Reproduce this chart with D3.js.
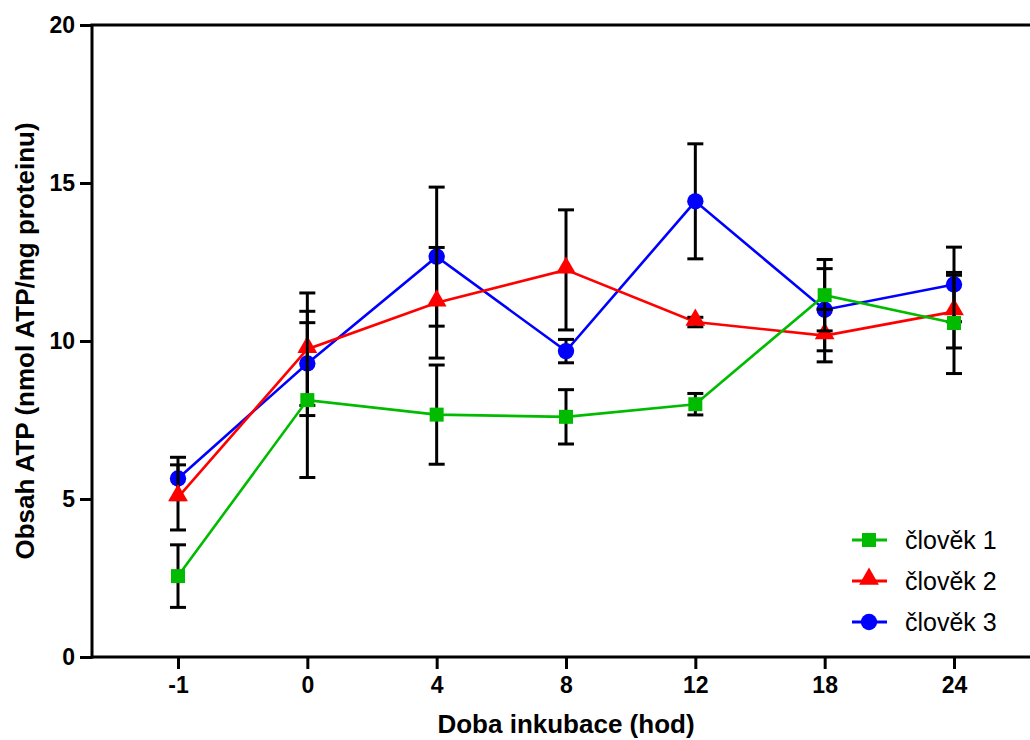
<!DOCTYPE html>
<html>
<head>
<meta charset="utf-8">
<script src="https://cdn.jsdelivr.net/npm/d3@7"></script>
<style>
  body { margin: 0; background: #fff; }
  svg { display: block; font-family: "Liberation Sans", Arial, sans-serif; }
</style>
</head>
<body>
<svg id="chart" width="1030" height="740"></svg>
<script>
const categories = ["-1", "0", "4", "8", "12", "18", "24"];

const mean1 = [2.56, 8.13, 7.67, 7.60, 8.00, 11.45, 10.57];
const sd1   = [0.99, 2.45, 1.57, 0.86, 0.34, 1.13, 1.60];
const mean2 = [5.05, 9.74, 11.21, 12.25, 10.60, 10.17, 10.93];
const sd2   = [1.03, 1.78, 1.75, 1.90, 0.15, 0.83, 1.15];
const mean3 = [5.65, 9.29, 12.67, 9.68, 14.42, 10.99, 11.79];
const sd3   = [0.67, 1.65, 2.20, 0.37, 1.82, 1.30, 1.18];

const yTicks = [0, 5, 10, 15, 20];

// drawn in this order: blue, red, green
const series = [
  { name: "člověk 3", mean: mean3, sd: sd3, color: "#0000ff", symbol: d3.symbolCircle, size: 210 },
  { name: "člověk 2", mean: mean2, sd: sd2, color: "#ff0000", symbol: d3.symbolTriangle, size: 170 },
  { name: "člověk 1", mean: mean1, sd: sd1, color: "#00bb00", symbol: d3.symbolSquare, size: 196 }
];

const svg = d3.select("#chart");
const mLeft = 92, mRight = 1030, mTop = 25, mBottom = 657;

const x = d3.scalePoint().domain(categories).range([178, 954]);
const y = d3.scaleLinear().domain([0, 20]).range([mBottom, mTop]);

// axes
const yAxis = svg.append("g")
  .attr("transform", `translate(${mLeft},0)`)
  .call(d3.axisLeft(y).tickValues(yTicks).tickSize(12).tickPadding(5));
const xAxis = svg.append("g")
  .attr("transform", `translate(0,${mBottom})`)
  .call(d3.axisBottom(x).tickSize(12).tickPadding(8));
xAxis.select(".domain").attr("d", `M${mLeft},0H${mRight}`);

[xAxis, yAxis].forEach(g => {
  g.selectAll(".domain, line").attr("stroke", "#000").attr("stroke-width", 3);
  g.selectAll("text")
    .attr("fill", "#000")
    .style("font-size", "23px")
    .style("font-weight", "bold");
});
yAxis.select(".domain").attr("d", `M0,${mBottom + 1.5}V${mTop}H${mRight - mLeft}`);

// axis titles
svg.append("text")
  .attr("x", 566).attr("y", 733)
  .attr("text-anchor", "middle")
  .style("font-size", "26px").style("font-weight", "bold")
  .text("Doba inkubace (hod)");
svg.append("text")
  .attr("transform", "translate(34,341) rotate(-90)")
  .attr("text-anchor", "middle")
  .style("font-size", "26px").style("font-weight", "bold")
  .text("Obsah ATP (nmol ATP/mg proteinu)");

const line = d3.line()
  .x((d, i) => x(categories[i]))
  .y(d => y(d));

series.forEach(s => {
  const g = svg.append("g");
  g.append("path")
    .attr("d", line(s.mean))
    .attr("fill", "none")
    .attr("stroke", s.color)
    .attr("stroke-width", 2.6);

  const pts = s.mean.map((m, i) => ({ cat: categories[i], m, sd: s.sd[i] }));
  const eb = g.selectAll(".eb").data(pts).join("g")
    .attr("stroke", "#000").attr("stroke-width", 3);
  eb.append("line")
    .attr("x1", d => x(d.cat)).attr("x2", d => x(d.cat))
    .attr("y1", d => y(d.m + d.sd)).attr("y2", d => y(d.m - d.sd));
  [1, -1].forEach(k => {
    eb.append("line")
      .attr("x1", d => x(d.cat) - 8).attr("x2", d => x(d.cat) + 8)
      .attr("y1", d => y(d.m + k * d.sd)).attr("y2", d => y(d.m + k * d.sd));
  });

  g.selectAll(".mk").data(pts).join("path")
    .attr("transform", d => `translate(${x(d.cat)},${y(d.m) + (s.symbol === d3.symbolTriangle ? -2 : 0)})`)
    .attr("d", d3.symbol(s.symbol, s.size))
    .attr("fill", s.color);
});

// legend
const legendItems = [series[2], series[1], series[0]];
const legend = svg.append("g");
legendItems.forEach((s, i) => {
  const ly = 540 + i * 41;
  legend.append("line")
    .attr("x1", 852).attr("x2", 887).attr("y1", ly).attr("y2", ly)
    .attr("stroke", s.color).attr("stroke-width", 3);
  legend.append("path")
    .attr("transform", `translate(869,${ly + (s.symbol === d3.symbolTriangle ? -2 : 0)})`)
    .attr("d", d3.symbol(s.symbol, s.size))
    .attr("fill", s.color);
  legend.append("text")
    .attr("x", 905).attr("y", ly + 9)
    .style("font-size", "25px")
    .text(s.name);
});
</script>
</body>
</html>
